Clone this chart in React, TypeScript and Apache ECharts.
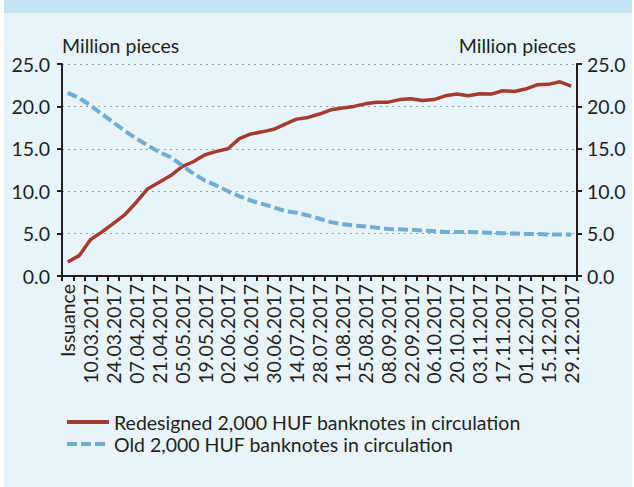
import React, { useEffect, useRef } from "react";
import * as echarts from "echarts";

const categories = [
  "Issuance", "03.03.2017", "10.03.2017", "17.03.2017", "24.03.2017", "31.03.2017",
  "07.04.2017", "14.04.2017", "21.04.2017", "28.04.2017", "05.05.2017", "12.05.2017",
  "19.05.2017", "26.05.2017", "02.06.2017", "09.06.2017", "16.06.2017", "23.06.2017",
  "30.06.2017", "07.07.2017", "14.07.2017", "21.07.2017", "28.07.2017", "04.08.2017",
  "11.08.2017", "18.08.2017", "25.08.2017", "01.09.2017", "08.09.2017", "15.09.2017",
  "22.09.2017", "29.09.2017", "06.10.2017", "13.10.2017", "20.10.2017", "27.10.2017",
  "03.11.2017", "10.11.2017", "17.11.2017", "24.11.2017", "01.12.2017", "08.12.2017",
  "15.12.2017", "22.12.2017", "29.12.2017",
];

const redesigned = [
  1.65, 2.4, 4.3, 5.2, 6.2, 7.25, 8.7, 10.3, 11.05, 11.85, 12.9, 13.5, 14.3, 14.7, 15.0,
  16.2, 16.75, 17.0, 17.3, 17.9, 18.5, 18.7, 19.1, 19.6, 19.8, 20.0, 20.3, 20.5, 20.5,
  20.8, 20.9, 20.7, 20.8, 21.25, 21.45, 21.25, 21.5, 21.45, 21.85, 21.75, 22.05, 22.55,
  22.6, 22.9, 22.4,
];

const oldNotes = [
  21.6, 21.0, 20.1, 19.1, 18.1, 17.1, 16.2, 15.4, 14.6, 14.0, 13.05, 12.05, 11.25, 10.65,
  10.0, 9.4, 8.9, 8.5, 8.1, 7.65, 7.45, 7.15, 6.75, 6.35, 6.1, 5.95, 5.85, 5.7, 5.55, 5.5,
  5.45, 5.35, 5.3, 5.2, 5.2, 5.2, 5.15, 5.1, 5.05, 5.0, 4.95, 4.95, 4.9, 4.9, 4.9,
];

const seriesNames = [
  "Redesigned 2,000 HUF banknotes in circulation",
  "Old 2,000 HUF banknotes in circulation",
];
const unitLabel = "Million pieces";

const FONT = "Lato";
const FS = 19.5;
const INK = "#231F20";

export default function App() {
  const ref = useRef<HTMLDivElement>(null);
  useEffect(() => {
    document.body.style.margin = "0";
    const chart = echarts.init(ref.current!, null, { renderer: "svg" });
    const axisCommon = {
      type: "value" as const,
      min: 0,
      max: 25,
      interval: 5,
      axisLine: { show: true, lineStyle: { color: INK, width: 2 } },
      axisTick: { show: true, length: 5, lineStyle: { color: INK, width: 2 } },
    };
    const labelCommon = {
      color: INK,
      fontFamily: FONT,
      fontSize: FS,
      formatter: (v: number) => v.toFixed(1),
    };
    chart.setOption({
      animation: false,
      backgroundColor: "#ffffff",
      graphic: [
        { type: "rect", z: -10, shape: { x: 4, y: 0, width: 628, height: 13 }, style: { fill: "#C3E5F3" } },
        { type: "rect", z: -10, shape: { x: 4, y: 13, width: 628, height: 474 }, style: { fill: "#E9F4FA" } },
        {
          type: "text", left: 62, top: 35,
          style: { text: unitLabel, fill: INK, font: `${FS}px ${FONT}` },
        },
        {
          type: "text", right: 58, top: 35,
          style: { text: unitLabel, fill: INK, font: `${FS}px ${FONT}`, textAlign: "right" },
        },
      ],
      grid: { left: 62, right: 57, top: 64, bottom: 211, containLabel: false },
      legend: {
        orient: "vertical",
        left: 60,
        top: 407,
        itemWidth: 42,
        itemHeight: 14,
        itemGap: 2,
        itemStyle: { opacity: 0 },
        lineStyle: { width: 4 },
        textStyle: { color: INK, fontFamily: FONT, fontSize: FS, lineHeight: 20 },
        data: seriesNames,
      },
      xAxis: {
        type: "category",
        data: categories,
        boundaryGap: true,
        axisLine: { lineStyle: { color: INK, width: 2 } },
        axisTick: { show: true, interval: 0, length: 5, lineStyle: { color: INK, width: 2 } },
        axisLabel: {
          interval: 1,
          rotate: 90,
          color: INK,
          fontFamily: FONT,
          fontSize: FS,
          margin: 8,
        },
      },
      yAxis: [
        {
          ...axisCommon,
          position: "left",
          axisLabel: { ...labelCommon, margin: 12 },
          splitLine: { show: true, lineStyle: { color: "#9a9a9a", type: [2, 4], width: 1 } },
        },
        {
          ...axisCommon,
          position: "right",
          axisLabel: { ...labelCommon, margin: 10 },
          splitLine: { show: false },
        },
      ],
      series: [
        {
          name: seriesNames[0],
          type: "line",
          data: redesigned,
          symbol: "none",
          color: "#A63A2F",
          lineStyle: { color: "#A63A2F", width: 3.5 },
        },
        {
          name: seriesNames[1],
          type: "line",
          data: oldNotes,
          symbol: "none",
          color: "#6EADD6",
          lineStyle: { color: "#6EADD6", width: 4, type: [10, 4] },
        },
      ],
    });
    return () => chart.dispose();
  }, []);
  return <div ref={ref} style={{ width: 634, height: 487 }} />;
}
